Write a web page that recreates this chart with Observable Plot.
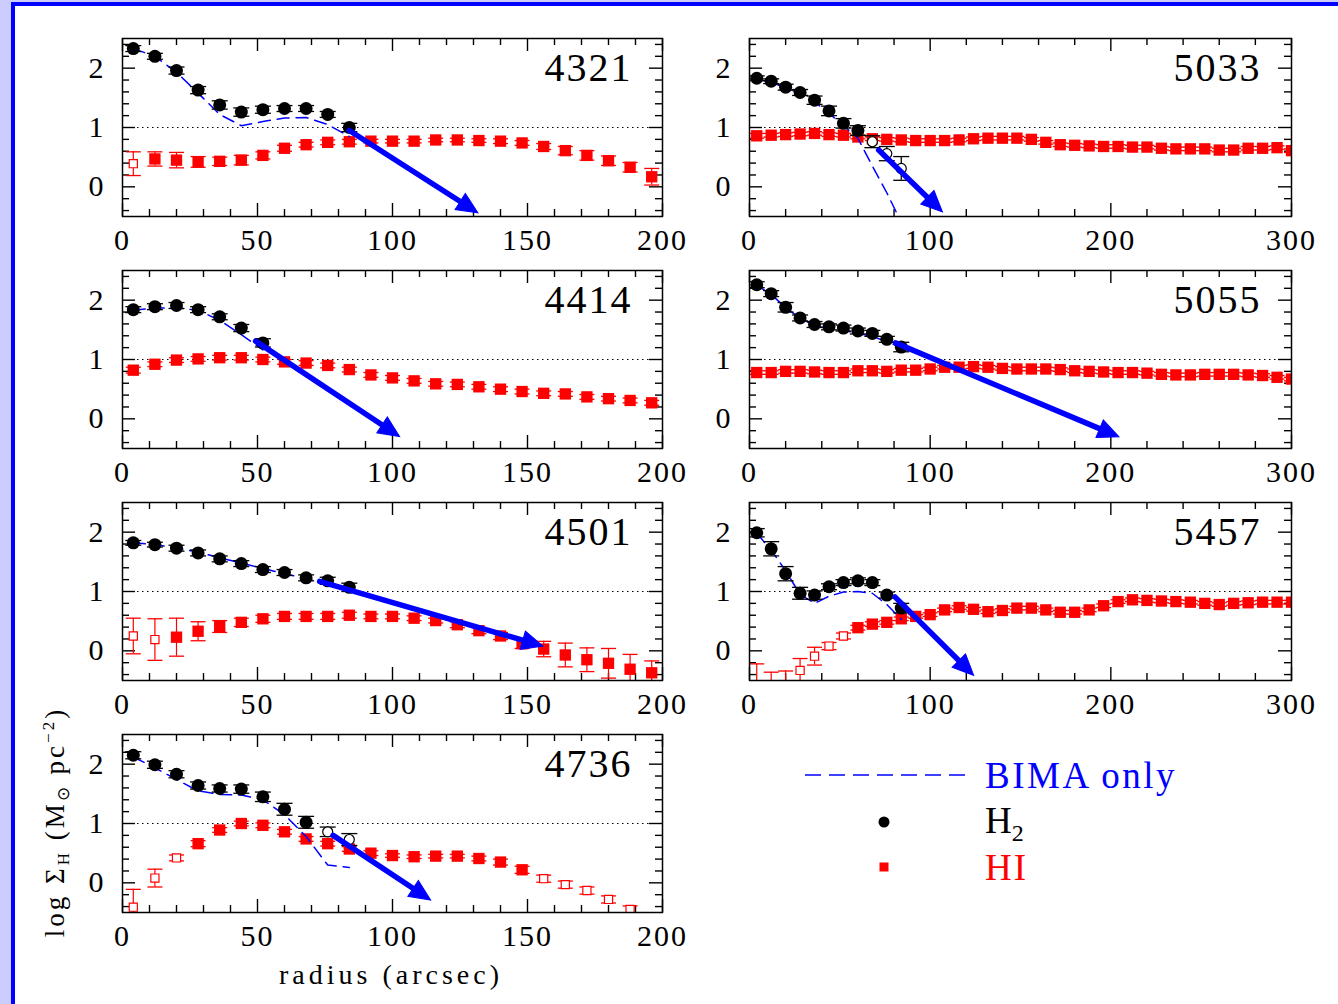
<!DOCTYPE html>
<html><head><meta charset="utf-8">
<script src="https://cdn.jsdelivr.net/npm/d3@7"></script>
<script src="https://cdn.jsdelivr.net/npm/@observablehq/plot@0.6"></script>
<style>
body{margin:0;background:#fff;}
#page{position:relative;width:1338px;height:1004px;background:#ccccff;overflow:hidden;font-family:"Liberation Serif",serif;}
#inner{position:absolute;left:11px;top:2px;right:0;bottom:0;background:#fff;border-left:4px solid #0000ff;border-top:4px solid #0000ff;}
.panel{position:absolute;}
#overlay{position:absolute;left:0;top:0;pointer-events:none;}
</style></head>
<body>
<div id="page"><div id="inner"></div></div>
<script>
// ---------- axis ticks ----------
const xMajor200 = [0, 50, 100, 150, 200];
const xMinor200 = [10, 20, 30, 40, 60, 70, 80, 90, 110, 120, 130, 140, 160, 170, 180, 190];
const xMajor300 = [0, 100, 200, 300];
const xMinor300 = [20, 40, 60, 80, 120, 140, 160, 180, 220, 240, 260, 280];
const yMajor = [0, 1, 2];
const yMinor = [-0.4, -0.2, 0.2, 0.4, 0.6, 0.8, 1.2, 1.4, 1.6, 1.8, 2.2, 2.4];

// ---------- radii (arcsec) ----------
const rH2 = [4, 12, 20, 28, 36, 44, 52, 60, 68, 76, 84];
const rHI = [4, 12, 20, 28, 36, 44, 52, 60, 68, 76, 84, 92, 100, 108, 116, 124, 132, 140, 148, 156, 164, 172, 180, 188, 196,
             204, 212, 220, 228, 236, 244, 252, 260, 268, 276, 284, 292, 300];

// ---------- NGC 4321 ----------
const n4321_h2 = [2.33, 2.20, 1.96, 1.63, 1.38, 1.26, 1.30, 1.32, 1.32, 1.22, 1.00];
const n4321_h2err = [0.05, 0.05, 0.06, 0.06, 0.07, 0.07, 0.06, 0.05, 0.05, 0.05, 0.07];
const n4321_bima = [2.33, 2.20, 1.93, 1.58, 1.22, 1.03, 1.10, 1.16, 1.17, 1.05, 0.85];
const n4321_hi = [0.39, 0.47, 0.45, 0.42, 0.43, 0.45, 0.53, 0.65, 0.71, 0.75, 0.76, 0.77, 0.77, 0.77, 0.79, 0.79, 0.78, 0.77, 0.74, 0.68, 0.61, 0.53, 0.44, 0.33, 0.17];
const n4321_hierr = [0.2, 0.12, 0.13, 0.09, 0.07, 0.08, 0.06, 0.05, 0.04, 0.04, 0.04, 0.03, 0.03, 0.03, 0.03, 0.03, 0.03, 0.04, 0.04, 0.05, 0.07, 0.08, 0.08, 0.08, 0.14];
const n4321_hiOpen = [4];
const n4321_h2Open = [];
const n4321_arrow = [84, 0.95, 131, -0.42];

// ---------- NGC 5033 ----------
const n5033_h2 = [1.83, 1.78, 1.68, 1.59, 1.46, 1.28, 1.07, 0.95, 0.76, 0.56, 0.31];
const n5033_h2err = [0.04, 0.04, 0.05, 0.05, 0.07, 0.08, 0.08, 0.08, 0.1, 0.12, 0.2];
const n5033_bima = [1.82, 1.76, 1.67, 1.57, 1.43, 1.24, 1.03, 0.82, 0.35, -0.10, -0.60];
const n5033_hi = [0.86, 0.87, 0.88, 0.89, 0.90, 0.88, 0.87, 0.84, 0.81, 0.80, 0.79, 0.78, 0.78, 0.78, 0.79, 0.81, 0.82, 0.82, 0.82, 0.80, 0.75, 0.71, 0.70, 0.69, 0.68, 0.68, 0.67, 0.67, 0.65, 0.64, 0.64, 0.64, 0.62, 0.62, 0.65, 0.65, 0.66, 0.61];
const n5033_hierr = [0.04, 0.03, 0.03, 0.03, 0.03, 0.03, 0.03, 0.03, 0.03, 0.03, 0.03, 0.03, 0.03, 0.03, 0.03, 0.03, 0.03, 0.03, 0.03, 0.03, 0.03, 0.03, 0.03, 0.03, 0.03, 0.03, 0.03, 0.03, 0.03, 0.03, 0.03, 0.03, 0.03, 0.03, 0.03, 0.03, 0.03, 0.03];
const n5033_hiOpen = [];
const n5033_h2Open = [68, 76, 84];
const n5033_arrow = [71.5, 0.62, 106, -0.40];

// ---------- NGC 4414 ----------
const n4414_h2 = [1.84, 1.89, 1.91, 1.84, 1.72, 1.53, 1.28];
const n4414_h2err = [0.05, 0.05, 0.05, 0.05, 0.05, 0.06, 0.07];
const n4414_bima = [1.83, 1.87, 1.87, 1.83, 1.66, 1.42, 1.16];
const n4414_hi = [0.82, 0.92, 0.99, 1.01, 1.03, 1.03, 1.00, 0.96, 0.94, 0.90, 0.83, 0.74, 0.69, 0.64, 0.59, 0.58, 0.54, 0.50, 0.46, 0.43, 0.42, 0.37, 0.34, 0.31, 0.27];
const n4414_hierr = [0.05, 0.04, 0.04, 0.04, 0.04, 0.04, 0.04, 0.04, 0.04, 0.04, 0.04, 0.04, 0.04, 0.04, 0.04, 0.04, 0.04, 0.04, 0.04, 0.04, 0.04, 0.04, 0.04, 0.04, 0.04];
const n4414_hiOpen = [];
const n4414_h2Open = [];
const n4414_arrow = [49.3, 1.31, 102, -0.28];

// ---------- NGC 5055 ----------
const n5055_h2 = [2.26, 2.11, 1.88, 1.70, 1.59, 1.55, 1.53, 1.48, 1.44, 1.34, 1.21];
const n5055_h2err = [0.05, 0.05, 0.08, 0.05, 0.05, 0.05, 0.05, 0.05, 0.05, 0.05, 0.08];
const n5055_bima = [2.25, 2.10, 1.87, 1.70, 1.57, 1.52, 1.49, 1.44, 1.39, 1.30, 1.20];
const n5055_hi = [0.78, 0.78, 0.80, 0.80, 0.79, 0.78, 0.78, 0.81, 0.81, 0.80, 0.82, 0.82, 0.84, 0.87, 0.87, 0.88, 0.87, 0.85, 0.84, 0.84, 0.84, 0.83, 0.81, 0.80, 0.79, 0.78, 0.78, 0.77, 0.75, 0.74, 0.74, 0.75, 0.75, 0.75, 0.74, 0.73, 0.70, 0.67];
const n5055_hierr = [0.03, 0.03, 0.03, 0.03, 0.03, 0.03, 0.03, 0.03, 0.03, 0.03, 0.03, 0.03, 0.03, 0.03, 0.03, 0.03, 0.03, 0.03, 0.03, 0.03, 0.03, 0.03, 0.03, 0.03, 0.03, 0.03, 0.03, 0.03, 0.03, 0.03, 0.03, 0.03, 0.03, 0.03, 0.03, 0.03, 0.03, 0.03];
const n5055_hiOpen = [];
const n5055_h2Open = [];
const n5055_arrow = [80.8, 1.28, 203.5, -0.29];

// ---------- NGC 4501 ----------
const n4501_h2 = [1.82, 1.79, 1.73, 1.65, 1.55, 1.47, 1.37, 1.32, 1.23, 1.18, 1.07];
const n4501_h2err = [0.04, 0.04, 0.05, 0.05, 0.05, 0.05, 0.05, 0.05, 0.05, 0.06, 0.07];
const n4501_bima = [1.82, 1.79, 1.74, 1.66, 1.57, 1.48, 1.39, 1.30, 1.22, 1.12, 1.00];
const n4501_hi = [0.25, 0.19, 0.23, 0.33, 0.41, 0.48, 0.54, 0.58, 0.58, 0.58, 0.60, 0.58, 0.58, 0.55, 0.51, 0.44, 0.34, 0.25, 0.12, 0.03, -0.07, -0.15, -0.21, -0.31, -0.37];
const n4501_hierr = [0.3, 0.35, 0.32, 0.16, 0.1, 0.07, 0.06, 0.05, 0.05, 0.05, 0.05, 0.04, 0.04, 0.04, 0.04, 0.05, 0.05, 0.06, 0.08, 0.13, 0.2, 0.2, 0.25, 0.25, 0.2];
const n4501_hiOpen = [4, 12];
const n4501_h2Open = [];
const n4501_arrow = [73, 1.17, 155, 0.09];

// ---------- NGC 5457 ----------
const n5457_h2 = [1.99, 1.72, 1.30, 0.97, 0.94, 1.08, 1.15, 1.18, 1.15, 0.94, 0.72];
const n5457_h2err = [0.07, 0.12, 0.12, 0.1, 0.07, 0.05, 0.05, 0.05, 0.05, 0.05, 0.08];
const n5457_bima = [1.98, 1.70, 1.35, 0.95, 0.80, 0.92, 0.99, 1.00, 0.97, 0.78, 0.53];
const n5457_hi = [-0.75, -0.85, -0.80, -0.33, -0.09, 0.08, 0.25, 0.39, 0.45, 0.48, 0.54, 0.58, 0.61, 0.69, 0.73, 0.70, 0.66, 0.68, 0.72, 0.72, 0.69, 0.65, 0.65, 0.69, 0.76, 0.83, 0.86, 0.85, 0.84, 0.83, 0.82, 0.80, 0.78, 0.80, 0.81, 0.82, 0.82, 0.82];
const n5457_hierr = [0.53, 0.49, 0.46, 0.2, 0.15, 0.06, 0.05, 0.04, 0.04, 0.03, 0.03, 0.03, 0.03, 0.03, 0.03, 0.03, 0.03, 0.03, 0.03, 0.03, 0.03, 0.03, 0.03, 0.03, 0.03, 0.03, 0.03, 0.03, 0.03, 0.03, 0.03, 0.03, 0.03, 0.03, 0.03, 0.03, 0.03, 0.03];
const n5457_hiOpen = [4, 12, 20, 28, 36, 44, 52];
const n5457_h2Open = [];
const n5457_arrow = [80.5, 0.91, 123.3, -0.39];

// ---------- NGC 4736 ----------
const n4736_h2 = [2.15, 1.99, 1.83, 1.64, 1.59, 1.58, 1.45, 1.24, 1.02, 0.86, 0.73];
const n4736_h2err = [0.06, 0.06, 0.06, 0.06, 0.06, 0.07, 0.08, 0.1, 0.1, 0.08, 0.1];
const n4736_bima = [2.12, 1.94, 1.74, 1.55, 1.49, 1.48, 1.40, 1.15, 0.78, 0.30, 0.26];
const n4736_hi = [-0.41, 0.08, 0.42, 0.66, 0.89, 1.00, 0.97, 0.86, 0.74, 0.66, 0.57, 0.50, 0.46, 0.44, 0.45, 0.45, 0.41, 0.35, 0.22, 0.07, -0.03, -0.13, -0.28, -0.45];
const n4736_hierr = [0.3, 0.15, 0.05, 0.05, 0.04, 0.04, 0.04, 0.04, 0.04, 0.04, 0.04, 0.04, 0.03, 0.03, 0.03, 0.03, 0.04, 0.05, 0.06, 0.06, 0.06, 0.06, 0.06, 0.06];
const n4736_hiOpen = [4, 12, 20, 156, 164, 172, 180, 188];
const n4736_h2Open = [76, 84];
const n4736_arrow = [78, 0.80, 113.5, -0.27];

// ---------- layout ----------
const panels = [
  {name: "4321", xmax: 200, col: 0, row: 0, h2: n4321_h2, h2err: n4321_h2err, bima: n4321_bima, hi: n4321_hi, hierr: n4321_hierr, hiOpen: n4321_hiOpen, h2Open: n4321_h2Open, arrow: n4321_arrow},
  {name: "5033", xmax: 300, col: 1, row: 0, h2: n5033_h2, h2err: n5033_h2err, bima: n5033_bima, hi: n5033_hi, hierr: n5033_hierr, hiOpen: n5033_hiOpen, h2Open: n5033_h2Open, arrow: n5033_arrow},
  {name: "4414", xmax: 200, col: 0, row: 1, h2: n4414_h2, h2err: n4414_h2err, bima: n4414_bima, hi: n4414_hi, hierr: n4414_hierr, hiOpen: n4414_hiOpen, h2Open: n4414_h2Open, arrow: n4414_arrow},
  {name: "5055", xmax: 300, col: 1, row: 1, h2: n5055_h2, h2err: n5055_h2err, bima: n5055_bima, hi: n5055_hi, hierr: n5055_hierr, hiOpen: n5055_hiOpen, h2Open: n5055_h2Open, arrow: n5055_arrow},
  {name: "4501", xmax: 200, col: 0, row: 2, h2: n4501_h2, h2err: n4501_h2err, bima: n4501_bima, hi: n4501_hi, hierr: n4501_hierr, hiOpen: n4501_hiOpen, h2Open: n4501_h2Open, arrow: n4501_arrow},
  {name: "5457", xmax: 300, col: 1, row: 2, h2: n5457_h2, h2err: n5457_h2err, bima: n5457_bima, hi: n5457_hi, hierr: n5457_hierr, hiOpen: n5457_hiOpen, h2Open: n5457_h2Open, arrow: n5457_arrow},
  {name: "4736", xmax: 200, col: 0, row: 3, h2: n4736_h2, h2err: n4736_h2err, bima: n4736_bima, hi: n4736_hi, hierr: n4736_hierr, hiOpen: n4736_hiOpen, h2Open: n4736_h2Open, arrow: n4736_arrow}
];

const frameLeft = [122, 749];
const frameWidth = [540, 542];
const frameTop = [38, 270, 502, 734];
const frameHeight = 178;

const RED = "#ff0000", BLUE = "#0000ff", BLACK = "#000000";
// horizontal error-bar cap
const capSymbol = {draw(ctx, size) { const r = Math.sqrt(size / Math.PI); ctx.moveTo(-r, 0); ctx.lineTo(r, 0); }};
// filled arrow head, tip at the anchor point, pointing along +x before rotation
const headSymbol = {draw(ctx) { ctx.moveTo(2, 0); ctx.lineTo(-19, -9.5); ctx.lineTo(-19, 9.5); ctx.closePath(); }};

const page = document.getElementById("page");

function makePanel(p) {
  const innerW = frameWidth[p.col], innerH = frameHeight;
  const ml = 62, mr = 46, mt = 6, mb = 50;
  const xMajor = p.xmax === 200 ? xMajor200 : xMajor300;
  const xMinor = p.xmax === 200 ? xMinor200 : xMinor300;
  const MAJ = 13, MIN = 7;
  const h2 = p.h2.map((v, i) => ({r: rH2[i], v, e: p.h2err[i], open: p.h2Open.includes(rH2[i])}));
  const bima = p.bima.map((v, i) => ({r: rH2[i], v}));
  const hi = p.hi.map((v, i) => ({r: rHI[i], v, e: p.hierr[i], open: p.hiOpen.includes(rHI[i])}));
  const arrow = [{x1: p.arrow[0], y1: p.arrow[1], x2: p.arrow[2], y2: p.arrow[3]}];
  // screen-space direction of the arrow (pixels per data unit from the scale extents)
  const kx = innerW / p.xmax, ky = innerH / 3;
  const angle = d => Math.atan2(-(d.y2 - d.y1) * ky, (d.x2 - d.x1) * kx) * 180 / Math.PI;
  const tickStyle = {stroke: BLACK, strokeWidth: 1.4};
  const chart = Plot.plot({
    width: innerW + ml + mr, height: innerH + mt + mb,
    marginLeft: ml, marginRight: mr, marginTop: mt, marginBottom: mb,
    x: {domain: [0, p.xmax]},
    y: {domain: [-0.5, 2.5]},
    style: "background:transparent;overflow:visible;font-family:'Liberation Serif',serif;font-size:30px;letter-spacing:2px;color:#000;",
    marks: [
      // inward ticks on all four sides
      Plot.ruleX(xMajor, {...tickStyle, insetTop: innerH - MAJ}),
      Plot.ruleX(xMajor, {...tickStyle, insetBottom: innerH - MAJ}),
      Plot.ruleX(xMinor, {...tickStyle, insetTop: innerH - MIN}),
      Plot.ruleX(xMinor, {...tickStyle, insetBottom: innerH - MIN}),
      Plot.ruleY(yMajor, {...tickStyle, insetRight: innerW - MAJ}),
      Plot.ruleY(yMajor, {...tickStyle, insetLeft: innerW - MAJ}),
      Plot.ruleY(yMinor, {...tickStyle, insetRight: innerW - MIN}),
      Plot.ruleY(yMinor, {...tickStyle, insetLeft: innerW - MIN}),
      Plot.axisX(xMajor, {tickSize: 0, tickPadding: 12, label: null, tickFormat: d => String(d)}),
      Plot.axisY(yMajor, {anchor: "left", tickSize: 0, tickPadding: 17, label: null, tickFormat: d => String(d)}),
      // dotted unity line
      Plot.ruleY([1], {stroke: BLACK, strokeWidth: 1, strokeDasharray: "1.5,3.5"}),
      // HI error bars and symbols
      Plot.ruleX(hi, {x: "r", y1: d => d.v - d.e, y2: d => d.v + d.e, stroke: RED, strokeWidth: 1.2, clip: true}),
      Plot.dot(hi, {x: "r", y: d => d.v + d.e, symbol: capSymbol, r: 7.5, stroke: RED, strokeWidth: 1.3, fill: "none", clip: true}),
      Plot.dot(hi, {x: "r", y: d => d.v - d.e, symbol: capSymbol, r: 7.5, stroke: RED, strokeWidth: 1.3, fill: "none", clip: true}),
      Plot.dot(hi.filter(d => !d.open), {x: "r", y: "v", symbol: "square", r: 6.4, fill: RED, stroke: "none", clip: true}),
      Plot.dot(hi.filter(d => d.open), {x: "r", y: "v", symbol: "square", r: 4.6, fill: "white", stroke: RED, strokeWidth: 1.2, clip: true}),
      // BIMA-only profile
      Plot.line(bima, {x: "r", y: "v", stroke: BLUE, strokeWidth: 1.5, strokeDasharray: "12,7", clip: true}),
      // H2 error bars and symbols
      Plot.ruleX(h2, {x: "r", y1: d => d.v - d.e, y2: d => d.v + d.e, stroke: BLACK, strokeWidth: 1.3, clip: true}),
      Plot.dot(h2, {x: "r", y: d => d.v + d.e, symbol: capSymbol, r: 8, stroke: BLACK, strokeWidth: 1.3, fill: "none", clip: true}),
      Plot.dot(h2, {x: "r", y: d => d.v - d.e, symbol: capSymbol, r: 8, stroke: BLACK, strokeWidth: 1.3, fill: "none", clip: true}),
      Plot.dot(h2.filter(d => !d.open), {x: "r", y: "v", r: 6.5, fill: BLACK, stroke: "none", clip: true}),
      Plot.dot(h2.filter(d => d.open), {x: "r", y: "v", r: 5, fill: "white", stroke: BLACK, strokeWidth: 1.2, clip: true}),
      // exponential extrapolation arrow: shaft + filled head
      Plot.arrow(arrow, {x1: "x1", y1: "y1", x2: "x2", y2: "y2", stroke: BLUE, strokeWidth: 5.5, headLength: 0, insetEnd: 12}),
      Plot.dot(arrow, {x: "x2", y: "y2", symbol: headSymbol, rotate: angle, fill: BLUE, stroke: BLUE, strokeWidth: 1}),
      // galaxy label
      Plot.text([p.name], {frameAnchor: "top-right", text: d => d, dx: -30, dy: 14, lineAnchor: "top", textAnchor: "end", fontSize: 40, fill: BLACK}),
      Plot.frame({stroke: BLACK, strokeWidth: 1.5})
    ]
  });
  const div = document.createElement("div");
  div.className = "panel";
  div.style.left = (frameLeft[p.col] - ml) + "px";
  div.style.top = (frameTop[p.row] - mt) + "px";
  div.appendChild(chart);
  page.appendChild(div);
}
panels.forEach(makePanel);

// ---------- titles and legend ----------
const NS = "http://www.w3.org/2000/svg";
const ov = document.createElementNS(NS, "svg");
ov.setAttribute("id", "overlay");
ov.setAttribute("width", 1338);
ov.setAttribute("height", 1004);
ov.innerHTML = `
  <g font-family="Liberation Serif, serif" fill="#000">
    <text x="391" y="984" text-anchor="middle" font-size="28" letter-spacing="4">radius (arcsec)</text>
    <text transform="translate(64,822) rotate(-90)" text-anchor="middle" font-size="27" letter-spacing="3">log Σ<tspan font-size="17" dy="5">H</tspan><tspan dy="-5"> (M</tspan><tspan font-size="17" dy="5">⊙</tspan><tspan dy="-5"> pc</tspan><tspan font-size="17" dy="-10">−2</tspan><tspan dy="10">)</tspan></text>
    <line x1="805" y1="775" x2="965" y2="775" stroke="#0000ff" stroke-width="1.5" stroke-dasharray="16,8"/>
    <text x="985" y="788" font-size="37" letter-spacing="2.5" fill="#0000ff">BIMA only</text>
    <circle cx="884" cy="822" r="5.5" fill="#000"/>
    <text x="985" y="833" font-size="37" fill="#000">H<tspan font-size="24" dy="8">2</tspan></text>
    <rect x="879.5" y="862.5" width="9" height="9" fill="#ff0000"/>
    <text x="985" y="880" font-size="37" letter-spacing="2" fill="#ff0000">HI</text>
  </g>`;
page.appendChild(ov);
</script>
</body></html>
